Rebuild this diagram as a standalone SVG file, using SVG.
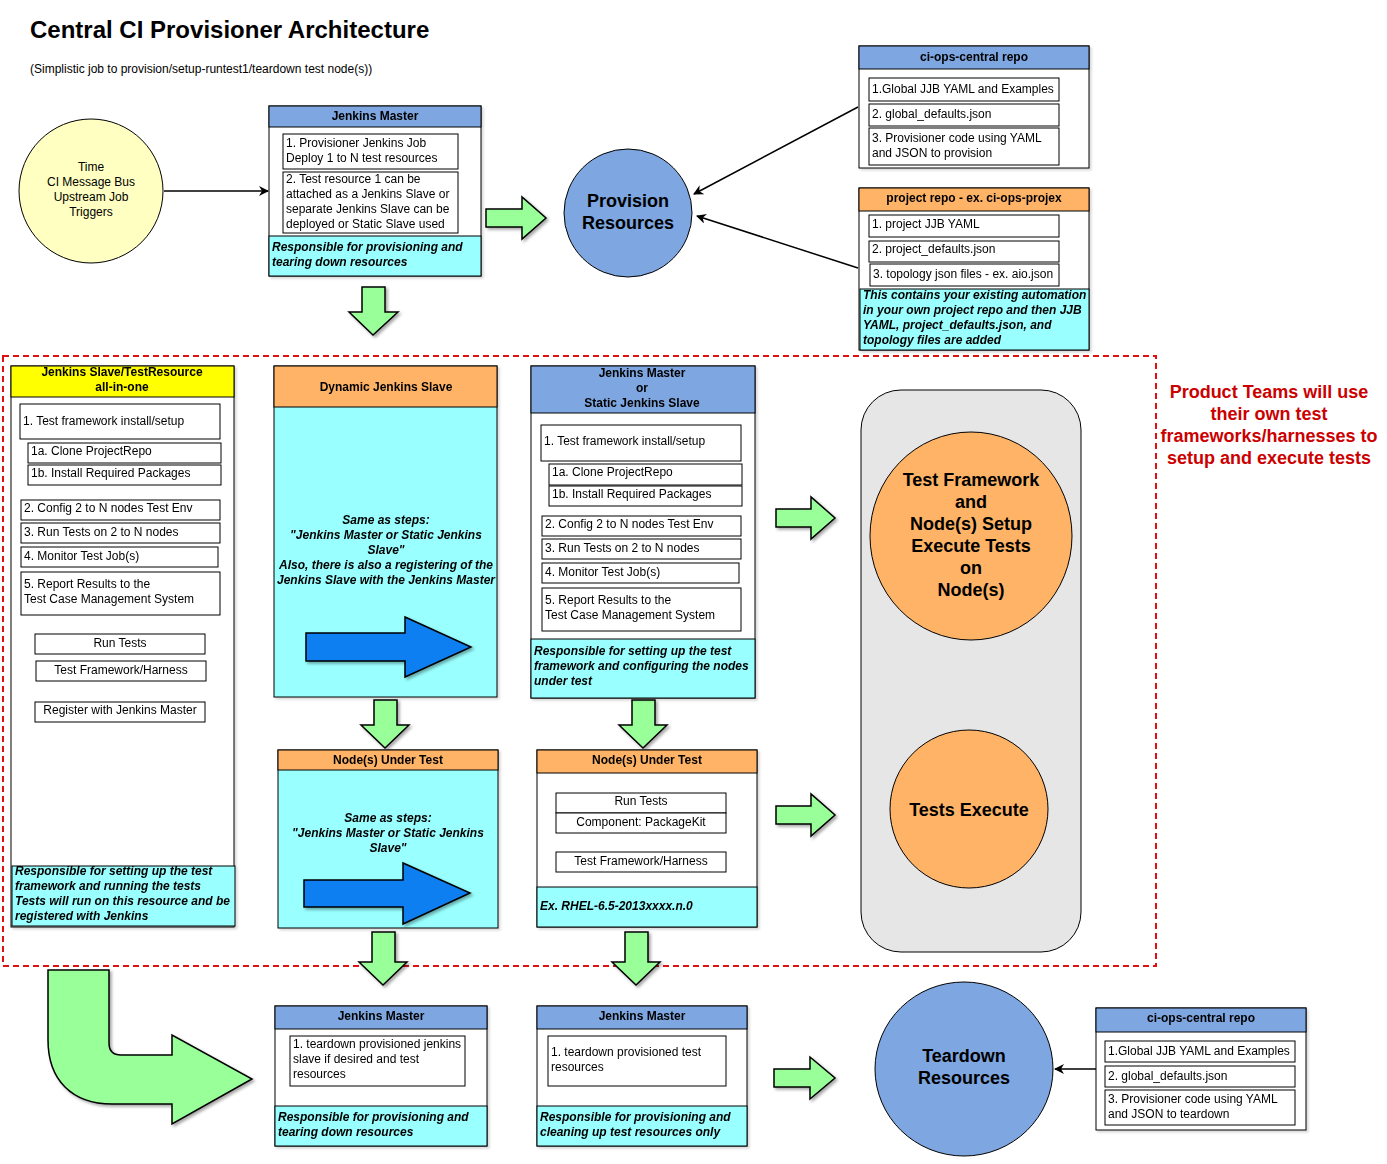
<svg xmlns="http://www.w3.org/2000/svg" width="1387" height="1164" viewBox="0 0 1387 1164">
<defs>
<style>
.t{font-family:"Liberation Sans",Arial,Helvetica,sans-serif;font-size:12px;fill:#000}
.b{font-weight:bold}
.bi{font-weight:bold;font-style:italic}
.c{text-anchor:middle}
.big{font-size:18px;font-weight:bold}
.box{fill:#fff;stroke:#000;stroke-width:1}
.frame{fill:#fff;stroke:#000;stroke-width:1}
.hb{fill:#7ea6e0;stroke:#000;stroke-width:1}
.ho{fill:#ffb366;stroke:#000;stroke-width:1}
.hy{fill:#ffff00;stroke:#000;stroke-width:1}
.cy{fill:#99ffff;stroke:#000;stroke-width:1}
.g{fill:#99ff99;stroke:#000;stroke-width:1.5;filter:url(#sh)}
.bl{fill:#0e7ff0;stroke:#000;stroke-width:1.5;filter:url(#sh)}
.ln{stroke:#000;stroke-width:1.5;fill:none;marker-end:url(#ah)}
.sh{filter:url(#sh2)}
</style>
<filter id="sh" x="-20%" y="-20%" width="150%" height="150%">
<feDropShadow dx="2" dy="2" stdDeviation="1.5" flood-color="#000" flood-opacity="0.35"/>
</filter>
<filter id="sh2" x="-5%" y="-5%" width="115%" height="115%">
<feDropShadow dx="2" dy="2" stdDeviation="1" flood-color="#000" flood-opacity="0.15"/>
</filter>
<marker id="ah" viewBox="0 0 10 10" refX="9" refY="5" markerWidth="10" markerHeight="10" markerUnits="userSpaceOnUse" orient="auto">
<path d="M0,0 L10,5 L0,10 L3,5 Z" fill="#000"/>
</marker>
</defs>
<rect width="1387" height="1164" fill="#fff"/>

<g id="title">
<text class="t b" x="30" y="38" style="font-size:24px">Central CI Provisioner Architecture</text>
<text class="t" x="30" y="73" style="font-size:12px">(Simplistic job to provision/setup-runtest1/teardown test node(s))</text>
</g>

<g id="boundary">
<rect x="3" y="356" width="1153" height="610" fill="none" stroke="#e01010" stroke-width="2" stroke-dasharray="6,4"/>
<g class="t b c" style="font-size:18px;fill:#cc0000">
<text x="1269" y="398" fill="#cc0000">Product Teams will use</text>
<text x="1269" y="420" fill="#cc0000">their own test</text>
<text x="1269" y="442" fill="#cc0000">frameworks/harnesses to</text>
<text x="1269" y="464" fill="#cc0000">setup and execute tests</text>
</g>
</g>

<g id="connectors">
<line class="ln" x1="164" y1="191" x2="268" y2="191"/>
<line class="ln" x1="858" y1="107" x2="694" y2="194"/>
<line class="ln" x1="858" y1="268" x2="697" y2="216"/>
<line class="ln" x1="1096" y1="1069" x2="1055" y2="1069"/>
<path class="g" d="M486,209 H522 V197 L546,218 L522,239 V227 H486 Z"/>
<path class="g" d="M362,287 H385 V312 H398 L373,335 L349,312 H362 Z"/>
<path class="g" d="M374,700 H397 V725 H409 L385,748 L361,725 H374 Z"/>
<path class="g" d="M632,700 H655 V725 H667 L643,748 L619,725 H632 Z"/>
<path class="g" d="M776,509 H811 V497 L835,518 L811,539 V527 H776 Z"/>
<path class="g" d="M776,806 H811 V794 L835,815 L811,836 V824 H776 Z"/>
<path class="g" d="M372,932 H395 V962 H407 L383,985 L359,962 H372 Z"/>
<path class="g" d="M625,932 H648 V962 H660 L636,985 L612,962 H625 Z"/>
<path class="g" d="M774,1069 H810 V1057 L835,1078 L810,1099 V1087 H774 Z"/>
<path class="g" d="M48,970 H109 V1043 Q109,1055 121,1055 H172 V1035 L252,1079 L172,1124 V1104 H112 C72,1104 48,1080 48,1040 Z"/>
</g>

<g id="triggers">
<circle cx="91" cy="191" r="72" fill="#ffffc2" stroke="#000" stroke-width="1"/>
<g class="t c">
<text x="91" y="171">Time</text>
<text x="91" y="186">CI Message Bus</text>
<text x="91" y="201">Upstream Job</text>
<text x="91" y="216">Triggers</text>
</g>
</g>

<g id="jenkins-master-top" class="sh">
<rect class="frame" x="269" y="106" width="212" height="170"/>
<rect class="hb" x="269" y="106" width="212" height="21"/>
<text class="t b c" x="375" y="120">Jenkins Master</text>
<rect class="box" x="283" y="134" width="175" height="35"/>
<text class="t" x="286" y="147">1. Provisioner Jenkins Job</text>
<text class="t" x="286" y="162">Deploy 1 to N test resources</text>
<rect class="box" x="283" y="172" width="175" height="61"/>
<text class="t" x="286" y="183">2. Test resource 1 can be</text>
<text class="t" x="286" y="198">attached as a Jenkins Slave or</text>
<text class="t" x="286" y="213">separate Jenkins Slave can be</text>
<text class="t" x="286" y="228">deployed or Static Slave used</text>
<rect class="cy" x="269" y="236" width="212" height="40"/>
<text class="t bi" x="272" y="251">Responsible for provisioning and</text>
<text class="t bi" x="272" y="266">tearing down resources</text>
</g>

<g id="provision-resources">
<circle cx="628" cy="213" r="64" fill="#7ea6e0" stroke="#000" stroke-width="1"/>
<text class="t big c" x="628" y="207">Provision</text>
<text class="t big c" x="628" y="229">Resources</text>
</g>

<g id="ci-ops-central-repo-top" class="sh">
<rect class="frame" x="859" y="46" width="230" height="122"/>
<rect class="hb" x="859" y="46" width="230" height="23"/>
<text class="t b c" x="974" y="61">ci-ops-central repo</text>
<rect class="box" x="869" y="78" width="190" height="23"/>
<text class="t" x="872" y="93">1.Global JJB YAML and Examples</text>
<rect class="box" x="869" y="104" width="190" height="22"/>
<text class="t" x="872" y="118">2. global_defaults.json</text>
<rect class="box" x="869" y="128" width="190" height="37"/>
<text class="t" x="872" y="142">3. Provisioner code using YAML</text>
<text class="t" x="872" y="157">and JSON to provision</text>
</g>

<g id="project-repo" class="sh">
<rect class="frame" x="859" y="188" width="230" height="162"/>
<rect class="ho" x="859" y="188" width="230" height="23"/>
<text class="t b c" x="974" y="202">project repo - ex. ci-ops-projex</text>
<rect class="box" x="869" y="215" width="190" height="22"/>
<text class="t" x="872" y="228">1. project JJB YAML</text>
<rect class="box" x="869" y="241" width="190" height="21"/>
<text class="t" x="872" y="253">2. project_defaults.json</text>
<rect class="box" x="870" y="264" width="189" height="22"/>
<text class="t" x="873" y="278">3. topology json files - ex. aio.json</text>
<rect class="cy" x="860" y="289" width="229" height="61"/>
<text class="t bi" x="863" y="299">This contains your existing automation</text>
<text class="t bi" x="863" y="314">in your own project repo and then JJB</text>
<text class="t bi" x="863" y="329">YAML, project_defaults.json, and</text>
<text class="t bi" x="863" y="344">topology files are added</text>
</g>

<g id="jenkins-slave-all-in-one" class="sh">
<rect class="frame" x="11" y="366" width="223" height="561"/>
<rect class="hy" x="11" y="366" width="223" height="31"/>
<text class="t b c" x="122" y="376">Jenkins Slave/TestResource</text>
<text class="t b c" x="122" y="391">all-in-one</text>
<rect class="box" x="20" y="404" width="200" height="35"/>
<text class="t" x="23" y="425">1. Test framework install/setup</text>
<rect class="box" x="28" y="443" width="193" height="20"/>
<text class="t" x="31" y="455">1a. Clone ProjectRepo</text>
<rect class="box" x="28" y="465" width="193" height="20"/>
<text class="t" x="31" y="477">1b. Install Required Packages</text>
<rect class="box" x="21" y="500" width="199" height="20"/>
<text class="t" x="24" y="512">2. Config 2 to N nodes Test Env</text>
<rect class="box" x="21" y="523" width="199" height="20"/>
<text class="t" x="24" y="536">3. Run Tests on 2 to N nodes</text>
<rect class="box" x="21" y="547" width="197" height="20"/>
<text class="t" x="24" y="560">4. Monitor Test Job(s)</text>
<rect class="box" x="21" y="572" width="199" height="43"/>
<text class="t" x="24" y="588">5. Report Results to the</text>
<text class="t" x="24" y="603">Test Case Management System</text>
<rect class="box" x="35" y="634" width="170" height="20"/>
<text class="t c" x="120" y="647">Run Tests</text>
<rect class="box" x="36" y="661" width="170" height="20"/>
<text class="t c" x="121" y="674">Test Framework/Harness</text>
<rect class="box" x="35" y="702" width="170" height="20"/>
<text class="t c" x="120" y="714">Register with Jenkins Master</text>
<rect class="cy" x="12" y="866" width="223" height="60"/>
<text class="t bi" x="15" y="875">Responsible for setting up the test</text>
<text class="t bi" x="15" y="890">framework and running the tests</text>
<text class="t bi" x="15" y="905">Tests will run on this resource and be</text>
<text class="t bi" x="15" y="920">registered with Jenkins</text>
</g>

<g id="dynamic-jenkins-slave" class="sh">
<rect class="cy" x="274" y="366" width="223" height="331"/>
<rect class="ho" x="274" y="366" width="223" height="41"/>
<text class="t b c" x="386" y="391">Dynamic Jenkins Slave</text>
<g class="t bi c">
<text x="386" y="524">Same as steps:</text>
<text x="386" y="539">"Jenkins Master or Static Jenkins</text>
<text x="386" y="554">Slave"</text>
<text x="386" y="569">Also, there is also a registering of the</text>
<text x="386" y="584">Jenkins Slave with the Jenkins Master</text>
</g>
<path class="bl" d="M306,633 H405 V617 L471,647 L405,677 V661 H306 Z"/>
</g>

<g id="jenkins-master-or-static-slave" class="sh">
<rect class="frame" x="531" y="366" width="224" height="332"/>
<rect class="hb" x="531" y="366" width="224" height="47"/>
<text class="t b c" x="642" y="377">Jenkins Master</text>
<text class="t b c" x="642" y="392">or</text>
<text class="t b c" x="642" y="407">Static Jenkins Slave</text>
<rect class="box" x="541" y="425" width="200" height="36"/>
<text class="t" x="544" y="445">1. Test framework install/setup</text>
<rect class="box" x="549" y="464" width="193" height="21"/>
<text class="t" x="552" y="476">1a. Clone ProjectRepo</text>
<rect class="box" x="549" y="486" width="193" height="20"/>
<text class="t" x="552" y="498">1b. Install Required Packages</text>
<rect class="box" x="542" y="516" width="199" height="20"/>
<text class="t" x="545" y="528">2. Config 2 to N nodes Test Env</text>
<rect class="box" x="542" y="539" width="199" height="20"/>
<text class="t" x="545" y="552">3. Run Tests on 2 to N nodes</text>
<rect class="box" x="542" y="563" width="197" height="20"/>
<text class="t" x="545" y="576">4. Monitor Test Job(s)</text>
<rect class="box" x="542" y="588" width="199" height="43"/>
<text class="t" x="545" y="604">5. Report Results to the</text>
<text class="t" x="545" y="619">Test Case Management System</text>
<rect class="cy" x="531" y="639" width="224" height="59"/>
<text class="t bi" x="534" y="655">Responsible for setting up the test</text>
<text class="t bi" x="534" y="670">framework and configuring the nodes</text>
<text class="t bi" x="534" y="685">under test</text>
</g>

<g id="nodes-under-test-dynamic" class="sh">
<rect class="cy" x="278" y="750" width="220" height="178"/>
<rect class="ho" x="278" y="750" width="220" height="20"/>
<text class="t b c" x="388" y="764">Node(s) Under Test</text>
<g class="t bi c">
<text x="388" y="822">Same as steps:</text>
<text x="388" y="837">"Jenkins Master or Static Jenkins</text>
<text x="388" y="852">Slave"</text>
</g>
<path class="bl" d="M304,880 H403 V863 L470,893 L403,924 V907 H304 Z"/>
</g>

<g id="nodes-under-test-static" class="sh">
<rect class="frame" x="537" y="750" width="220" height="177"/>
<rect class="ho" x="537" y="750" width="220" height="23"/>
<text class="t b c" x="647" y="764">Node(s) Under Test</text>
<rect class="box" x="556" y="793" width="170" height="20"/>
<text class="t c" x="641" y="805">Run Tests</text>
<rect class="box" x="556" y="813" width="170" height="20"/>
<text class="t c" x="641" y="826">Component: PackageKit</text>
<rect class="box" x="556" y="852" width="170" height="20"/>
<text class="t c" x="641" y="865">Test Framework/Harness</text>
<rect class="cy" x="537" y="887" width="220" height="40"/>
<text class="t bi" x="540" y="910">Ex. RHEL-6.5-2013xxxx.n.0</text>
</g>

<g id="test-execution">
<rect x="861" y="390" width="220" height="562" rx="40" ry="40" fill="#e6e6e6" stroke="#000" stroke-width="1"/>
<ellipse cx="971" cy="536" rx="101" ry="104" fill="#ffb366" stroke="#000" stroke-width="1"/>
<g class="t big c">
<text x="971" y="486">Test Framework</text>
<text x="971" y="508">and</text>
<text x="971" y="530">Node(s) Setup</text>
<text x="971" y="552">Execute Tests</text>
<text x="971" y="574">on</text>
<text x="971" y="596">Node(s)</text>
</g>
<circle cx="969" cy="809" r="79" fill="#ffb366" stroke="#000" stroke-width="1"/>
<text class="t big c" x="969" y="816">Tests Execute</text>
</g>

<g id="jenkins-master-teardown-slave" class="sh">
<rect class="frame" x="275" y="1006" width="212" height="140"/>
<rect class="hb" x="275" y="1006" width="212" height="23"/>
<text class="t b c" x="381" y="1020">Jenkins Master</text>
<rect class="box" x="290" y="1036" width="175" height="50"/>
<text class="t" x="293" y="1048">1. teardown provisioned jenkins</text>
<text class="t" x="293" y="1063">slave if desired and test</text>
<text class="t" x="293" y="1078">resources</text>
<rect class="cy" x="275" y="1106" width="212" height="40"/>
<text class="t bi" x="278" y="1121">Responsible for provisioning and</text>
<text class="t bi" x="278" y="1136">tearing down resources</text>
</g>

<g id="jenkins-master-teardown-resources" class="sh">
<rect class="frame" x="537" y="1006" width="210" height="140"/>
<rect class="hb" x="537" y="1006" width="210" height="23"/>
<text class="t b c" x="642" y="1020">Jenkins Master</text>
<rect class="box" x="548" y="1036" width="178" height="50"/>
<text class="t" x="551" y="1056">1. teardown provisioned test</text>
<text class="t" x="551" y="1071">resources</text>
<rect class="cy" x="537" y="1106" width="210" height="40"/>
<text class="t bi" x="540" y="1121">Responsible for provisioning and</text>
<text class="t bi" x="540" y="1136">cleaning up test resources only</text>
</g>

<g id="teardown-resources">
<ellipse cx="964" cy="1069" rx="89" ry="87" fill="#7ea6e0" stroke="#000" stroke-width="1"/>
<text class="t big c" x="964" y="1062">Teardown</text>
<text class="t big c" x="964" y="1084">Resources</text>
</g>

<g id="ci-ops-central-repo-bottom" class="sh">
<rect class="frame" x="1096" y="1008" width="210" height="122"/>
<rect class="hb" x="1096" y="1008" width="210" height="24"/>
<text class="t b c" x="1201" y="1022">ci-ops-central repo</text>
<rect class="box" x="1105" y="1041" width="190" height="21"/>
<text class="t" x="1108" y="1055">1.Global JJB YAML and Examples</text>
<rect class="box" x="1105" y="1066" width="190" height="21"/>
<text class="t" x="1108" y="1080">2. global_defaults.json</text>
<rect class="box" x="1105" y="1090" width="190" height="35"/>
<text class="t" x="1108" y="1103">3. Provisioner code using YAML</text>
<text class="t" x="1108" y="1118">and JSON to teardown</text>
</g>
</svg>
